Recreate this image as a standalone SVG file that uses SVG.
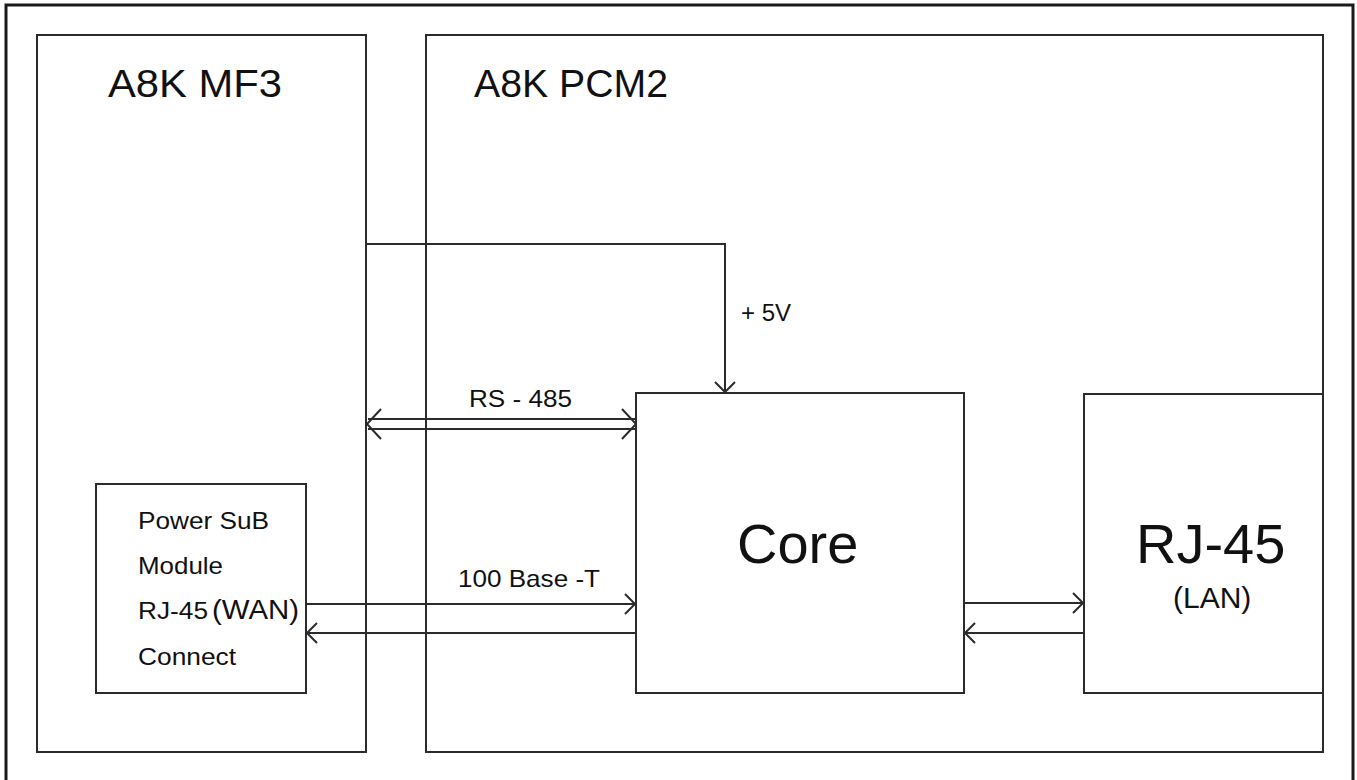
<svg xmlns="http://www.w3.org/2000/svg" width="1357" height="780" viewBox="0 0 1357 780">
  <defs>
    <marker id="arr" markerUnits="userSpaceOnUse" markerWidth="24" markerHeight="24" viewBox="-12 -12 24 24" refX="0" refY="0" orient="auto">
      <path d="M-10,-10 L0,0 L-10,10" fill="none" stroke="#2b2b2b" stroke-width="2"/>
    </marker>
  </defs>
  <style>
    .box { fill: none; stroke: #2b2b2b; stroke-width: 2; }
    .frame { fill: none; stroke: #1a1a1a; stroke-width: 3; }
    .ln { fill: none; stroke: #2b2b2b; stroke-width: 2; }
    .t { font-family: "Liberation Sans", Arial, sans-serif; fill: #111; }
    .title { font-size: 38px; }
    .lbl { font-size: 24px; }
    .big { font-size: 56px; }
  </style>
  <rect width="1357" height="780" fill="#ffffff"/>
  <rect id="frame" class="frame" x="6" y="5" width="1347" height="820"/>

  <g id="mf3">
    <rect class="box" x="37" y="35" width="329" height="717"/>
    <text class="t title" x="108" y="97" textLength="174" lengthAdjust="spacingAndGlyphs">A8K MF3</text>
  </g>
  <g id="pcm2">
    <rect class="box" x="426" y="35" width="897" height="717"/>
    <text class="t title" x="474" y="97" textLength="194" lengthAdjust="spacingAndGlyphs">A8K PCM2</text>
  </g>
  <g id="power">
    <rect class="box" x="96" y="484" width="210" height="209"/>
    <text class="t lbl" x="138" y="529" textLength="131" lengthAdjust="spacingAndGlyphs">Power SuB</text>
    <text class="t lbl" x="138" y="574" textLength="85" lengthAdjust="spacingAndGlyphs">Module</text>
    <text class="t lbl" x="138" y="619"><tspan textLength="70" lengthAdjust="spacingAndGlyphs">RJ-45</tspan><tspan x="212" font-size="27" textLength="87" lengthAdjust="spacingAndGlyphs">(WAN)</tspan></text>
    <text class="t lbl" x="138" y="665" textLength="98" lengthAdjust="spacingAndGlyphs">Connect</text>
  </g>
  <g id="core">
    <rect class="box" x="636" y="393" width="328" height="300"/>
    <text class="t big" x="737" y="563">Core</text>
  </g>
  <g id="rj45">
    <rect class="box" x="1084" y="394" width="239" height="299"/>
    <text class="t big" x="1136" y="563">RJ-45</text>
    <text class="t" font-size="30" x="1173" y="608">(LAN)</text>
  </g>

  <g id="connectors">
    <polyline class="ln" points="367,244 725,244 725,392" marker-end="url(#arr)"/>
    <text class="t lbl" x="741" y="321">+ 5V</text>

    <line class="ln" x1="368" y1="419" x2="635" y2="419"/>
    <line class="ln" x1="368" y1="429" x2="635" y2="429"/>
    <path class="ln" d="M381,409 L367,424 L381,439"/>
    <path class="ln" d="M622,409 L636,424 L622,439"/>
    <text class="t lbl" x="469" y="407" textLength="103" lengthAdjust="spacingAndGlyphs">RS - 485</text>

    <line class="ln" x1="306" y1="604" x2="635" y2="604" marker-end="url(#arr)"/>
    <line class="ln" x1="636" y1="633" x2="307" y2="633" marker-end="url(#arr)"/>
    <text class="t lbl" x="458" y="587" textLength="142" lengthAdjust="spacingAndGlyphs">100 Base -T</text>

    <line class="ln" x1="964" y1="603" x2="1083" y2="603" marker-end="url(#arr)"/>
    <line class="ln" x1="1084" y1="633" x2="965" y2="633" marker-end="url(#arr)"/>
  </g>
</svg>
